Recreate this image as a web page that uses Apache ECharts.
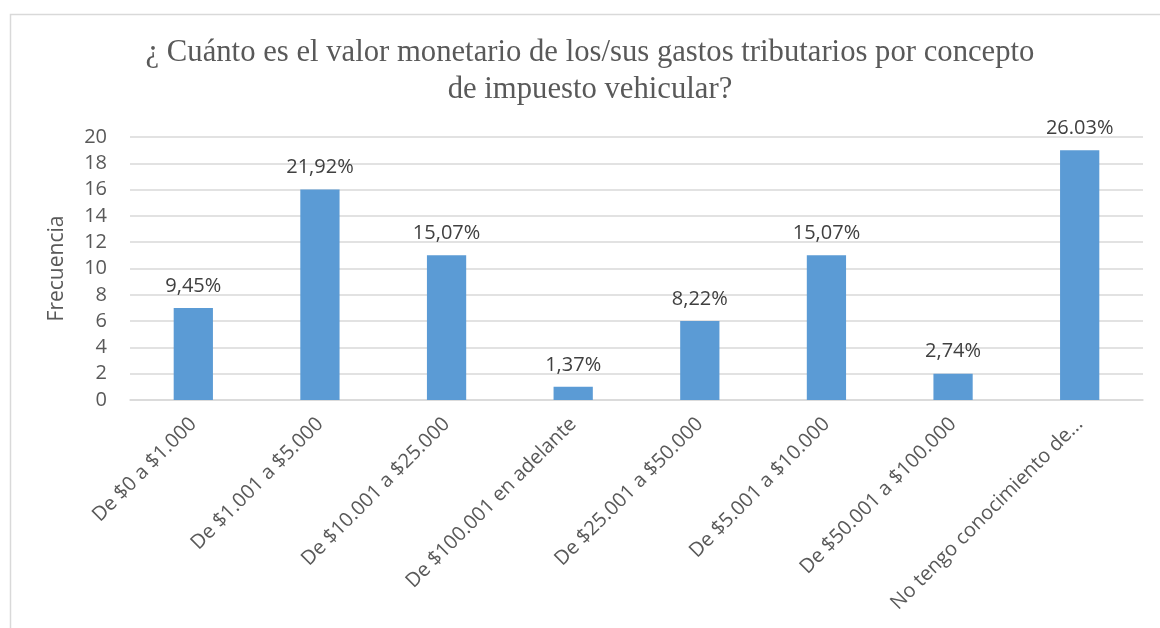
<!DOCTYPE html>
<html>
<head>
<meta charset="utf-8">
<script src="https://cdn.jsdelivr.net/npm/echarts@6/dist/echarts.min.js"></script>
<style>
  html, body { margin: 0; padding: 0; background: #fff; }
  #chart { width: 1160px; height: 628px; }
</style>
</head>
<body>
<div id="chart"></div>
<script>
const categories = [
  "De $0 a $1.000",
  "De $1.001 a $5.000",
  "De $10.001 a $25.000",
  "De $100.001 en adelante",
  "De $25.001 a $50.000",
  "De $5.001 a $10.000",
  "De $50.001 a $100.000",
  "No tengo conocimiento de..."
];
const frecuencia = [7, 16, 11, 1, 6, 11, 2, 19];
const porcentajes = ["9,45%", "21,92%", "15,07%", "1,37%", "8,22%", "15,07%", "2,74%", "26.03%"];

const myChart = echarts.init(document.getElementById("chart"));

const option = {
  animation: false,
  graphic: [
    {
      type: "rect",
      left: 8,
      top: 12,
      shape: { width: 1300, height: 800 },
      style: { fill: "none", stroke: "#d9d9d9", lineWidth: 1.5 },
      silent: true
    },
    {
      type: "text",
      x: 590,
      y: 34,
      style: {
        text: "¿ Cuánto es el valor monetario de los/sus gastos tributarios por concepto\nde impuesto vehicular?",
        font: '30.7px "Liberation Serif", "Times New Roman", serif',
        fill: "#595959",
        align: "center",
        verticalAlign: "top",
        lineHeight: 37
      }
    }
  ],
  grid: {
    left: 130,
    right: 17,
    top: 137,
    bottom: 228
  },
  xAxis: {
    type: "category",
    data: categories,
    axisLine: { lineStyle: { color: "#d9d9d9", width: 1.5 } },
    axisTick: { show: false },
    axisLabel: {
      rotate: 45,
      interval: 0,
      color: "#595959",
      fontSize: 20,
      fontFamily: "Open Sans",
      margin: 21
    }
  },
  yAxis: {
    type: "value",
    min: 0,
    max: 20,
    interval: 2,
    name: "Frecuencia",
    nameLocation: "middle",
    nameGap: 62,
    nameRotate: 90,
    nameTextStyle: { color: "#595959", fontSize: 21, fontFamily: "Open Sans" },
    axisLine: { show: false },
    axisTick: { show: false },
    splitLine: { lineStyle: { color: "#d9d9d9", width: 1.5 } },
    axisLabel: { color: "#595959", fontSize: 20, fontFamily: "Open Sans", margin: 23 }
  },
  series: [
    {
      name: "Frecuencia",
      type: "bar",
      data: frecuencia,
      barWidth: "31%",
      itemStyle: { color: "#5b9bd5" },
      label: {
        show: true,
        position: "top",
        distance: 12,
        color: "#404040",
        fontSize: 20,
        fontFamily: "Open Sans",
        formatter: (p) => porcentajes[p.dataIndex]
      }
    }
  ]
};

myChart.setOption(option);
</script>
</body>
</html>
